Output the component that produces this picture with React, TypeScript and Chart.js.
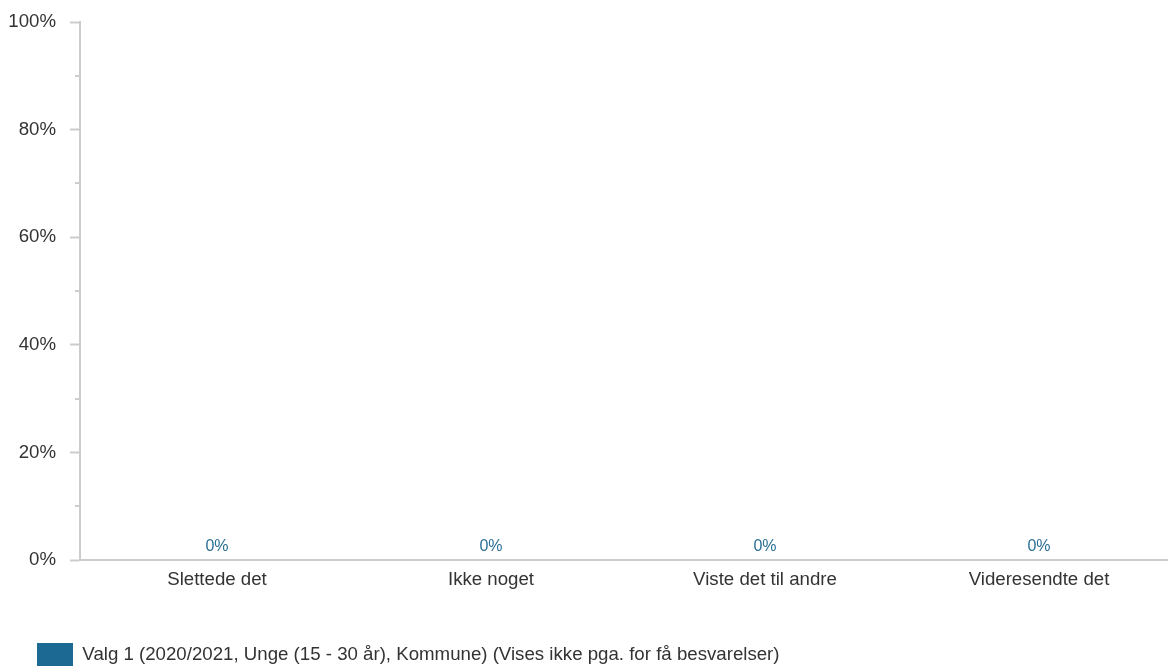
import React, { useEffect, useRef } from "react";
import { Chart, registerables } from "chart.js";

Chart.register(...registerables);

const categories = ["Slettede det", "Ikke noget", "Viste det til andre", "Videresendte det"];
const seriesLabel = "Valg 1 (2020/2021, Unge (15 - 30 år), Kommune) (Vises ikke pga. for få besvarelser)";
const seriesValues = [0, 0, 0, 0];
const yTickValues = [0, 20, 40, 60, 80, 100];

const FONT = "'Liberation Sans', Arial, sans-serif";
const TEXT = "#333333";
const AXIS = "#cccccc";
const BAR = "#1c6a94";
const FS = 18.67;

const dataLabelPlugin = {
  id: "dataLabels",
  afterDatasetsDraw(chart: any) {
    const ctx = chart.ctx;
    chart.data.datasets.forEach((ds: any, di: number) => {
      const meta = chart.getDatasetMeta(di);
      meta.data.forEach((el: any, i: number) => {
        ctx.save();
        ctx.font = `16px ${FONT}`;
        ctx.fillStyle = "#2a6f97";
        ctx.textAlign = "center";
        ctx.textBaseline = "bottom";
        ctx.fillText(`${ds.data[i]}%`, el.x, el.y - 5);
        ctx.restore();
      });
    });
  },
};

const minorTickPlugin = {
  id: "minorTicks",
  afterDraw(chart: any) {
    const scale = chart.scales.y;
    const ctx = chart.ctx;
    ctx.save();
    ctx.strokeStyle = AXIS;
    ctx.lineWidth = 2;
    scale.ticks.forEach((t: any) => {
      if (!yTickValues.includes(t.value)) {
        const py = Math.round(scale.getPixelForValue(t.value));
        ctx.beginPath();
        ctx.moveTo(scale.right - 5, py);
        ctx.lineTo(scale.right, py);
        ctx.stroke();
      }
    });
    ctx.restore();
  },
};

export default function App() {
  const ref = useRef<HTMLCanvasElement>(null);
  useEffect(() => {
    if (!ref.current) return;
    const chart = new Chart(ref.current, {
      type: "bar",
      data: {
        labels: categories,
        datasets: [
          {
            label: seriesLabel,
            data: seriesValues,
            backgroundColor: BAR,
            borderWidth: 0,
          },
        ],
      },
      options: {
        responsive: false,
        animation: false,
        layout: { padding: { top: 22, right: 4, left: 0, bottom: 0 } },
        plugins: {
          tooltip: { enabled: false },
          legend: {
            position: "bottom",
            align: "start",
            labels: {
              boxWidth: 36,
              boxHeight: 23,
              padding: 37,
              color: TEXT,
              font: { family: FONT, size: FS },
            },
          },
        },
        scales: {
          x: {
            grid: { drawOnChartArea: false, drawTicks: false },
            border: { color: AXIS, width: 2 },
            ticks: { color: TEXT, font: { family: FONT, size: FS }, padding: 9 },
            afterFit(scale: any) {
              scale.height = 46;
            },
          },
          y: {
            min: 0,
            max: 100,
            ticks: {
              stepSize: 10,
              color: TEXT,
              font: { family: FONT, size: FS },
              padding: 14,
              autoSkip: false,
              callback: (v: any) => (yTickValues.includes(v) ? `${v}%` : ""),
            },
            grid: {
              drawOnChartArea: false,
              drawTicks: true,
              tickLength: 10,
              tickWidth: 2,
              tickColor: (c: any) => (c.tick && yTickValues.includes(c.tick.value) ? AXIS : "rgba(0,0,0,0)"),
            },
            border: { color: AXIS, width: 2 },
            afterFit(scale: any) {
              scale.width = 80;
              scale.paddingTop = 0;
              scale.paddingBottom = 0;
            },
          },
        },
      },
      plugins: [dataLabelPlugin, minorTickPlugin],
    });
    return () => chart.destroy();
  }, []);

  return (
    <div style={{ position: "fixed", left: 0, top: 0, width: 1168, height: 666, overflow: "hidden", background: "#fff" }}>
      <canvas ref={ref} width={1180} height={676} style={{ display: "block" }} />
    </div>
  );
}
